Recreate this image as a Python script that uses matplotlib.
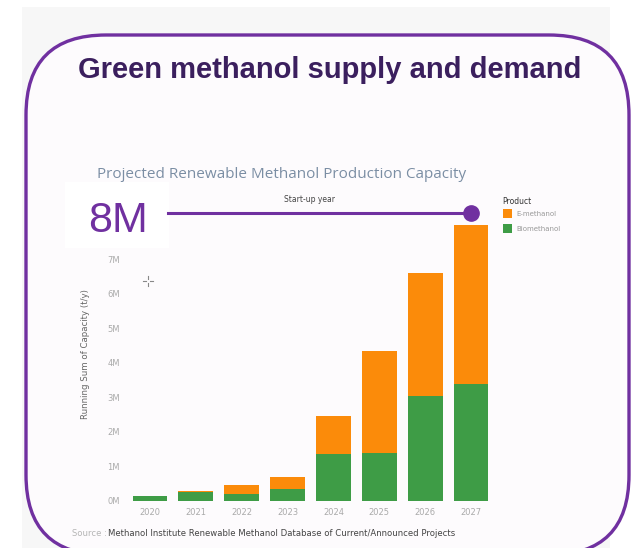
import matplotlib.pyplot as plt
import numpy as np
from matplotlib.patches import FancyBboxPatch, Rectangle

# Projected renewable methanol capacity, million t/y (running sum)
years = ['2020', '2021', '2022', '2023', '2024', '2025', '2026', '2027']
biomethanol = [0.15, 0.25, 0.20, 0.35, 1.35, 1.40, 3.05, 3.40]
e_methanol = [0.00, 0.03, 0.25, 0.35, 1.10, 2.95, 3.55, 4.60]
ytick_vals = [0, 1, 2, 3, 4, 5, 6, 7]

ORANGE = '#fb8b0a'
GREEN = '#3e9c46'
PURPLE = '#7030a0'

W, H = 631, 548
fig = plt.figure(figsize=(W / 100, H / 100), dpi=100)
fig.patch.set_facecolor('white')

# full-figure axes in pixel units for the slide decoration
bg = fig.add_axes([0, 0, 1, 1])
bg.set_xlim(0, W)
bg.set_ylim(H, 0)
bg.axis('off')
bg.add_patch(Rectangle((22, 7), 588, 541, fc='#f7f7f7', ec='none'))
bg.add_patch(FancyBboxPatch((26, 35), 603, 520,
                            boxstyle='round,pad=0,rounding_size=80',
                            fc='#fdfbfd', ec=PURPLE, lw=2.4))
bg.text(330, 70, 'Green methanol supply and demand', ha='center', va='center',
        fontsize=21, fontweight='bold', color='#3b1f5e', family='Liberation Sans')
bg.text(282, 175, 'Projected Renewable Methanol Production Capacity', ha='center', va='center',
        fontsize=11, color='#7b8ea4', family='Open Sans')
bg.text(310, 200, 'Start-up year', ha='center', va='center', fontsize=5.5, color='#444444')
bg.text(85, 354, 'Running Sum of Capacity (t/y)', ha='center', va='center', rotation=90,
        fontsize=6.2, color='#666666')
bg.text(72, 534, 'Source :', ha='left', va='center', fontsize=6.1, color='#b5b5b5')
bg.text(108, 534, 'Methanol Institute Renewable Methanol Database of Current/Announced Projects',
        ha='left', va='center', fontsize=6.1, color='#444444')

# legend
bg.text(502, 201, 'Product', ha='left', va='center', fontsize=5.5, color='#333333')
bg.add_patch(Rectangle((503, 209), 9, 9, fc=ORANGE, ec='none'))
bg.add_patch(Rectangle((503, 224), 9, 9, fc=GREEN, ec='none'))
bg.text(516, 214, 'E-methanol', ha='left', va='center', fontsize=5, color='#999999')
bg.text(516, 229, 'Biomethanol', ha='left', va='center', fontsize=5, color='#999999')

# small cursor cross
cx, cy = 148, 281
for dx, dy in [(-5, 0), (5, 0), (0, -5), (0, 5)]:
    bg.plot([cx + dx * 0.4, cx + dx], [cy + dy * 0.4, cy + dy], color='#888888', lw=0.8)

# bar chart
ax = fig.add_axes([127 / W, (H - 501) / H, (494 - 127) / W, (501 - 206) / H])
ax.patch.set_alpha(0)
x = np.arange(len(years))
total = np.array(biomethanol) + np.array(e_methanol)
ax.bar(x, biomethanol, width=0.76, color=GREEN)
ax.bar(x, e_methanol, width=0.76, bottom=biomethanol, color=ORANGE)
ax.set_xlim(-0.5, len(years) - 0.5)
ax.set_ylim(0, 8.55)
ax.set_xticks(x)
ax.set_xticklabels(years, fontsize=6, color='#aaaaaa')
ax.set_yticks(ytick_vals)
ax.set_yticklabels([f'{v}M' for v in ytick_vals], fontsize=6, color='#aaaaaa')
ax.tick_params(length=0, pad=5)
for s in ax.spines.values():
    s.set_visible(False)

# callout on the 2027 total
y_dot = total[-1] + 0.35
ax.plot([0.39, x[-1]], [y_dot, y_dot], color=PURPLE, lw=2.2, clip_on=False, zorder=5)
ax.plot(x[-1], y_dot, 'o', ms=11, color=PURPLE, clip_on=False, zorder=6)
bg.add_patch(Rectangle((65, 182), 104, 66, fc='white', ec='none', zorder=4))
bg.text(118, 221, f'{total[-1]:.0f}M', ha='center', va='center', fontsize=31,
        color=PURPLE, family='Liberation Sans', zorder=5)

fig.savefig('out.png', dpi=100)
